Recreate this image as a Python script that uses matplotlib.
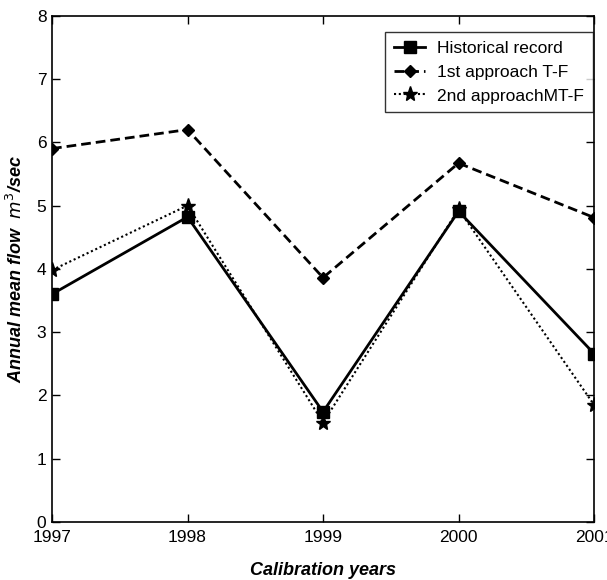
import matplotlib
matplotlib.use("Agg")
import matplotlib.pyplot as plt
from matplotlib import font_manager

years = [1997, 1998, 1999, 2000, 2001]
historical = [3.60, 4.82, 1.74, 4.91, 2.66]
approach_tf = [5.90, 6.20, 3.86, 5.67, 4.81]
approach_mtf = [3.98, 5.00, 1.57, 4.94, 1.85]
yticks = [0, 1, 2, 3, 4, 5, 6, 7, 8]

names = {f.name for f in font_manager.fontManager.ttflist}
family = "Liberation Sans Narrow" if "Liberation Sans Narrow" in names else "Liberation Sans"
plt.rcParams["font.family"] = [family, "DejaVu Sans"]

fig = plt.figure(figsize=(6.07, 5.80), dpi=100)
ax = fig.add_axes([0.0857, 0.10, 0.893, 0.873])

ax.plot(years, historical, color="black", linestyle="-", linewidth=2.0,
        marker="s", markersize=8.5, label="Historical record")
ax.plot(years, approach_tf, color="black", linestyle=(0, (3.5, 1.8)), linewidth=2.0,
        marker="D", markersize=6.5, label="1st approach T-F")
ax.plot(years, approach_mtf, color="black", linestyle=(0, (1, 1.3)), linewidth=1.5,
        marker="*", markersize=11, label="2nd approachMT-F")

ax.set_xlim(1997, 2001)
ax.set_ylim(0, 8)
ax.set_xticks(years)
ax.set_xticklabels([str(y) for y in years])
ax.set_yticks(yticks)
ax.tick_params(axis="both", direction="in", length=6, width=1, top=True, right=True,
               labelsize=12.5)
ax.tick_params(axis="x", pad=6)
ax.tick_params(axis="y", pad=4)
for s in ax.spines.values():
    s.set_linewidth(1.2)

ax.set_xlabel("Calibration years", fontsize=13, fontweight="bold", style="italic",
              labelpad=12)
ax.set_ylabel(r"Annual mean flow  $m^3$/sec", fontsize=13, fontweight="bold",
              style="italic", labelpad=8)

leg = ax.legend(loc="upper right", bbox_to_anchor=(593 / 607, 1 - 32 / 580),
                bbox_transform=fig.transFigure, borderaxespad=0, fontsize=12.5,
                frameon=True, fancybox=False, edgecolor="black",
                handlelength=1.8, handletextpad=0.7, borderpad=0.5,
                labelspacing=0.5)
leg.get_frame().set_linewidth(1.0)

fig.savefig("out.png", dpi=100)
